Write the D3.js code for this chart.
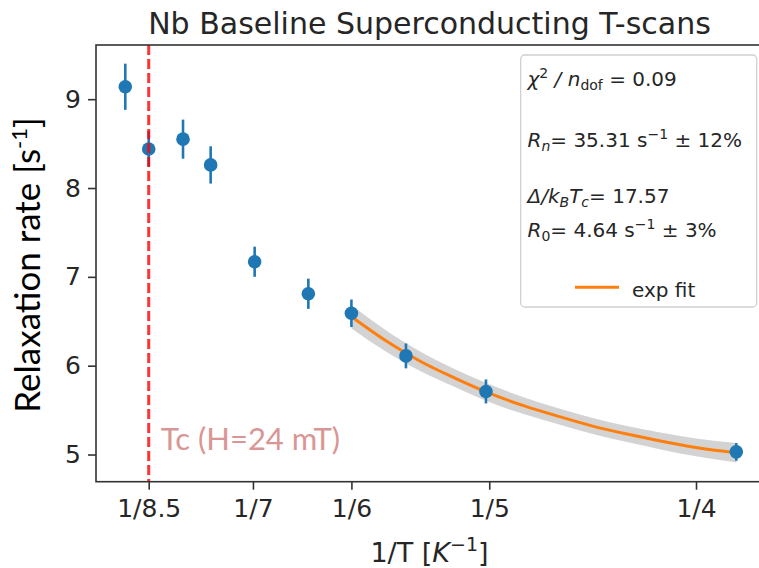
<!DOCTYPE html>
<html>
<head>
<meta charset="utf-8">
<script src="https://cdn.jsdelivr.net/npm/d3@7"></script>
<style>
body { margin: 0; background: #fff; }
svg { display: block; font-family: "DejaVu Sans", sans-serif; }
</style>
</head>
<body>
<svg id="chart" width="759" height="568"></svg>
<script>
// measured points: temperature [K], relaxation rate [1/s] and its error
const temps = [8.93, 8.5, 7.94, 7.54, 6.98, 6.40, 6.00, 5.56, 5.02, 3.85];
const rates = [9.14, 8.44, 8.55, 8.26, 7.17, 6.81, 6.59, 6.11, 5.71, 5.03];
const rateErrs = [0.26, 0.20, 0.22, 0.21, 0.17, 0.17, 0.155, 0.14, 0.135, 0.10];

// exp fit (x is 1/T), plus half width of the grey band
const fitInvT = [0.1667, 0.175, 0.1833, 0.1917, 0.2, 0.2083, 0.2167, 0.225, 0.2333, 0.2417, 0.25, 0.2598];
const fitRate = [6.55, 6.28, 6.05, 5.86, 5.69, 5.55, 5.43, 5.32, 5.23, 5.15, 5.08, 5.02];
const fitBand = [0.13, 0.12, 0.11, 0.10, 0.10, 0.095, 0.09, 0.09, 0.09, 0.095, 0.10, 0.11];

const xTickVals = [1 / 8.5, 1 / 7, 1 / 6, 1 / 5, 1 / 4];
const xTickLabels = ["1/8.5", "1/7", "1/6", "1/5", "1/4"];
const yTickVals = [5, 6, 7, 8, 9];
const tcInvT = 1 / 8.5;

const blue = "#1f77b4";
const orange = "#ff7f0e";
const ink = "#262626";

const svg = d3.select("#chart");

const plot = { left: 96, right: 763, top: 45, bottom: 481.7 };

const xScale = d3.scaleLinear()
    .domain([0.1049, 0.2662])
    .range([plot.left, plot.right]);

const yScale = d3.scaleLinear()
    .domain([4.694, 9.61])
    .range([plot.bottom, plot.top]);

// title
svg.append("text")
    .attr("x", (plot.left + plot.right) / 2)
    .attr("y", 33.5)
    .attr("text-anchor", "middle")
    .attr("font-size", 30)
    .attr("fill", ink)
    .text("Nb Baseline Superconducting T-scans");

// fit band + line
const fitData = fitInvT.map((v, i) => ({ x: v, r: fitRate[i], b: fitBand[i] }));

svg.append("path")
    .datum(fitData)
    .attr("fill", "#d3d3d3")
    .attr("d", d3.area()
        .x(d => xScale(d.x))
        .y0(d => yScale(d.r - d.b))
        .y1(d => yScale(d.r + d.b))
        .curve(d3.curveMonotoneX));

svg.append("path")
    .datum(fitData)
    .attr("fill", "none")
    .attr("stroke", orange)
    .attr("stroke-width", 3)
    .attr("d", d3.line()
        .x(d => xScale(d.x))
        .y(d => yScale(d.r))
        .curve(d3.curveMonotoneX));

// data points with error bars
const points = temps.map((t, i) => ({ x: 1 / t, r: rates[i], e: rateErrs[i] }));

svg.selectAll(".err")
    .data(points)
    .enter()
    .append("line")
    .attr("class", "err")
    .attr("x1", d => xScale(d.x))
    .attr("x2", d => xScale(d.x))
    .attr("y1", d => yScale(d.r - d.e))
    .attr("y2", d => yScale(d.r + d.e))
    .attr("stroke", blue)
    .attr("stroke-width", 2.6);

svg.selectAll(".pt")
    .data(points)
    .enter()
    .append("circle")
    .attr("class", "pt")
    .attr("cx", d => xScale(d.x))
    .attr("cy", d => yScale(d.r))
    .attr("r", 6.8)
    .attr("fill", blue);

// Tc marker
svg.append("line")
    .attr("x1", xScale(tcInvT))
    .attr("x2", xScale(tcInvT))
    .attr("y1", plot.top)
    .attr("y2", plot.bottom)
    .attr("stroke", "#ff0000")
    .attr("stroke-opacity", 0.8)
    .attr("stroke-width", 3)
    .attr("stroke-dasharray", "10,4");

svg.append("text")
    .attr("x", xScale(tcInvT) + 12)
    .attr("y", 450)
    .attr("font-family", "Lato, 'Open Sans', sans-serif")
    .attr("font-size", 31)
    .attr("fill", "#d99694")
    .text("Tc (H=24 mT)");

// axes
const xAxis = svg.append("g")
    .attr("transform", `translate(0,${plot.bottom})`)
    .call(d3.axisBottom(xScale)
        .tickValues(xTickVals)
        .tickFormat((d, i) => xTickLabels[i])
        .tickSize(8)
        .tickPadding(9.5));

const yAxis = svg.append("g")
    .attr("transform", `translate(${plot.left},0)`)
    .call(d3.axisLeft(yScale)
        .tickValues(yTickVals)
        .tickFormat(d3.format("d"))
        .tickSize(8)
        .tickPadding(7));

[xAxis, yAxis].forEach(g => {
    g.select(".domain").remove();
    g.attr("font-family", "DejaVu Sans, sans-serif").attr("font-size", 25);
    g.selectAll(".tick line").attr("stroke", "#333").attr("stroke-width", 1.6);
    g.selectAll(".tick text").attr("fill", ink);
});

// frame
svg.append("rect")
    .attr("x", plot.left)
    .attr("y", plot.top)
    .attr("width", plot.right - plot.left)
    .attr("height", plot.bottom - plot.top)
    .attr("fill", "none")
    .attr("stroke", "#333")
    .attr("stroke-width", 1.6);

// axis labels
const xLabel = svg.append("text")
    .attr("x", (plot.left + plot.right) / 2)
    .attr("y", 561.5)
    .attr("text-anchor", "middle")
    .attr("font-size", 27)
    .attr("fill", ink);
xLabel.append("tspan").text("1/T [");
xLabel.append("tspan").attr("font-style", "italic").text("K");
xLabel.append("tspan").attr("font-size", 19).attr("dy", -11).text("\u22121");
xLabel.append("tspan").attr("dy", 11).text("]");

const yLabel = svg.append("text")
    .attr("transform", "translate(40,265) rotate(-90)")
    .attr("text-anchor", "middle")
    .attr("font-family", "Lato, 'Open Sans', sans-serif")
    .attr("font-size", 35)
    .attr("fill", "#000");
yLabel.append("tspan").text("Relaxation rate [s");
yLabel.append("tspan").attr("font-size", 22).attr("dy", -13).text("-1");
yLabel.append("tspan").attr("dy", 13).text("]");

// legend
const legend = svg.append("g");

legend.append("rect")
    .attr("x", 520.7)
    .attr("y", 55)
    .attr("width", 236)
    .attr("height", 252)
    .attr("rx", 4)
    .attr("fill", "#fff")
    .attr("fill-opacity", 0.8)
    .attr("stroke", "#d0d0d0")
    .attr("stroke-width", 1.3);

// each row: list of [text, style] pieces; style: i = italic, sup, sub, si = italic sub
const legendRows = [
    { y: 85.7, parts: [["\u03c7", "i"], ["2", "sup"], [" / ", "i"], ["n", "i"], ["dof", "sub"], [" = 0.09", ""]] },
    { y: 146.7, parts: [["R", "i"], ["n", "si"], ["= 35.31 s", ""], ["\u22121", "sup"], [" \u00b1 12%", ""]] },
    { y: 202.7, parts: [["\u0394/k", "i"], ["B", "si"], ["T", "i"], ["c", "si"], ["= 17.57", ""]] },
    { y: 236.7, parts: [["R", "i"], ["0", "sub"], ["= 4.64 s", ""], ["\u22121", "sup"], [" \u00b1 3%", ""]] }
];

legendRows.forEach(row => {
    const t = legend.append("text")
        .attr("x", 527.5)
        .attr("y", row.y)
        .attr("font-size", 20)
        .attr("fill", ink);
    let shift = 0;
    row.parts.forEach(([str, style]) => {
        let target = 0;
        if (style === "sup") target = -8;
        if (style === "sub" || style === "si") target = 4;
        const s = t.append("tspan").attr("dy", target - shift).text(str);
        shift = target;
        if (style === "i" || style === "si") s.attr("font-style", "italic");
        if (style === "sup" || style === "sub" || style === "si") s.attr("font-size", 14);
    });
});

legend.append("line")
    .attr("x1", 575)
    .attr("x2", 619)
    .attr("y1", 287.3)
    .attr("y2", 287.3)
    .attr("stroke", orange)
    .attr("stroke-width", 3);

legend.append("text")
    .attr("x", 632)
    .attr("y", 296.7)
    .attr("font-size", 20)
    .attr("fill", ink)
    .text("exp fit");
</script>
</body>
</html>
